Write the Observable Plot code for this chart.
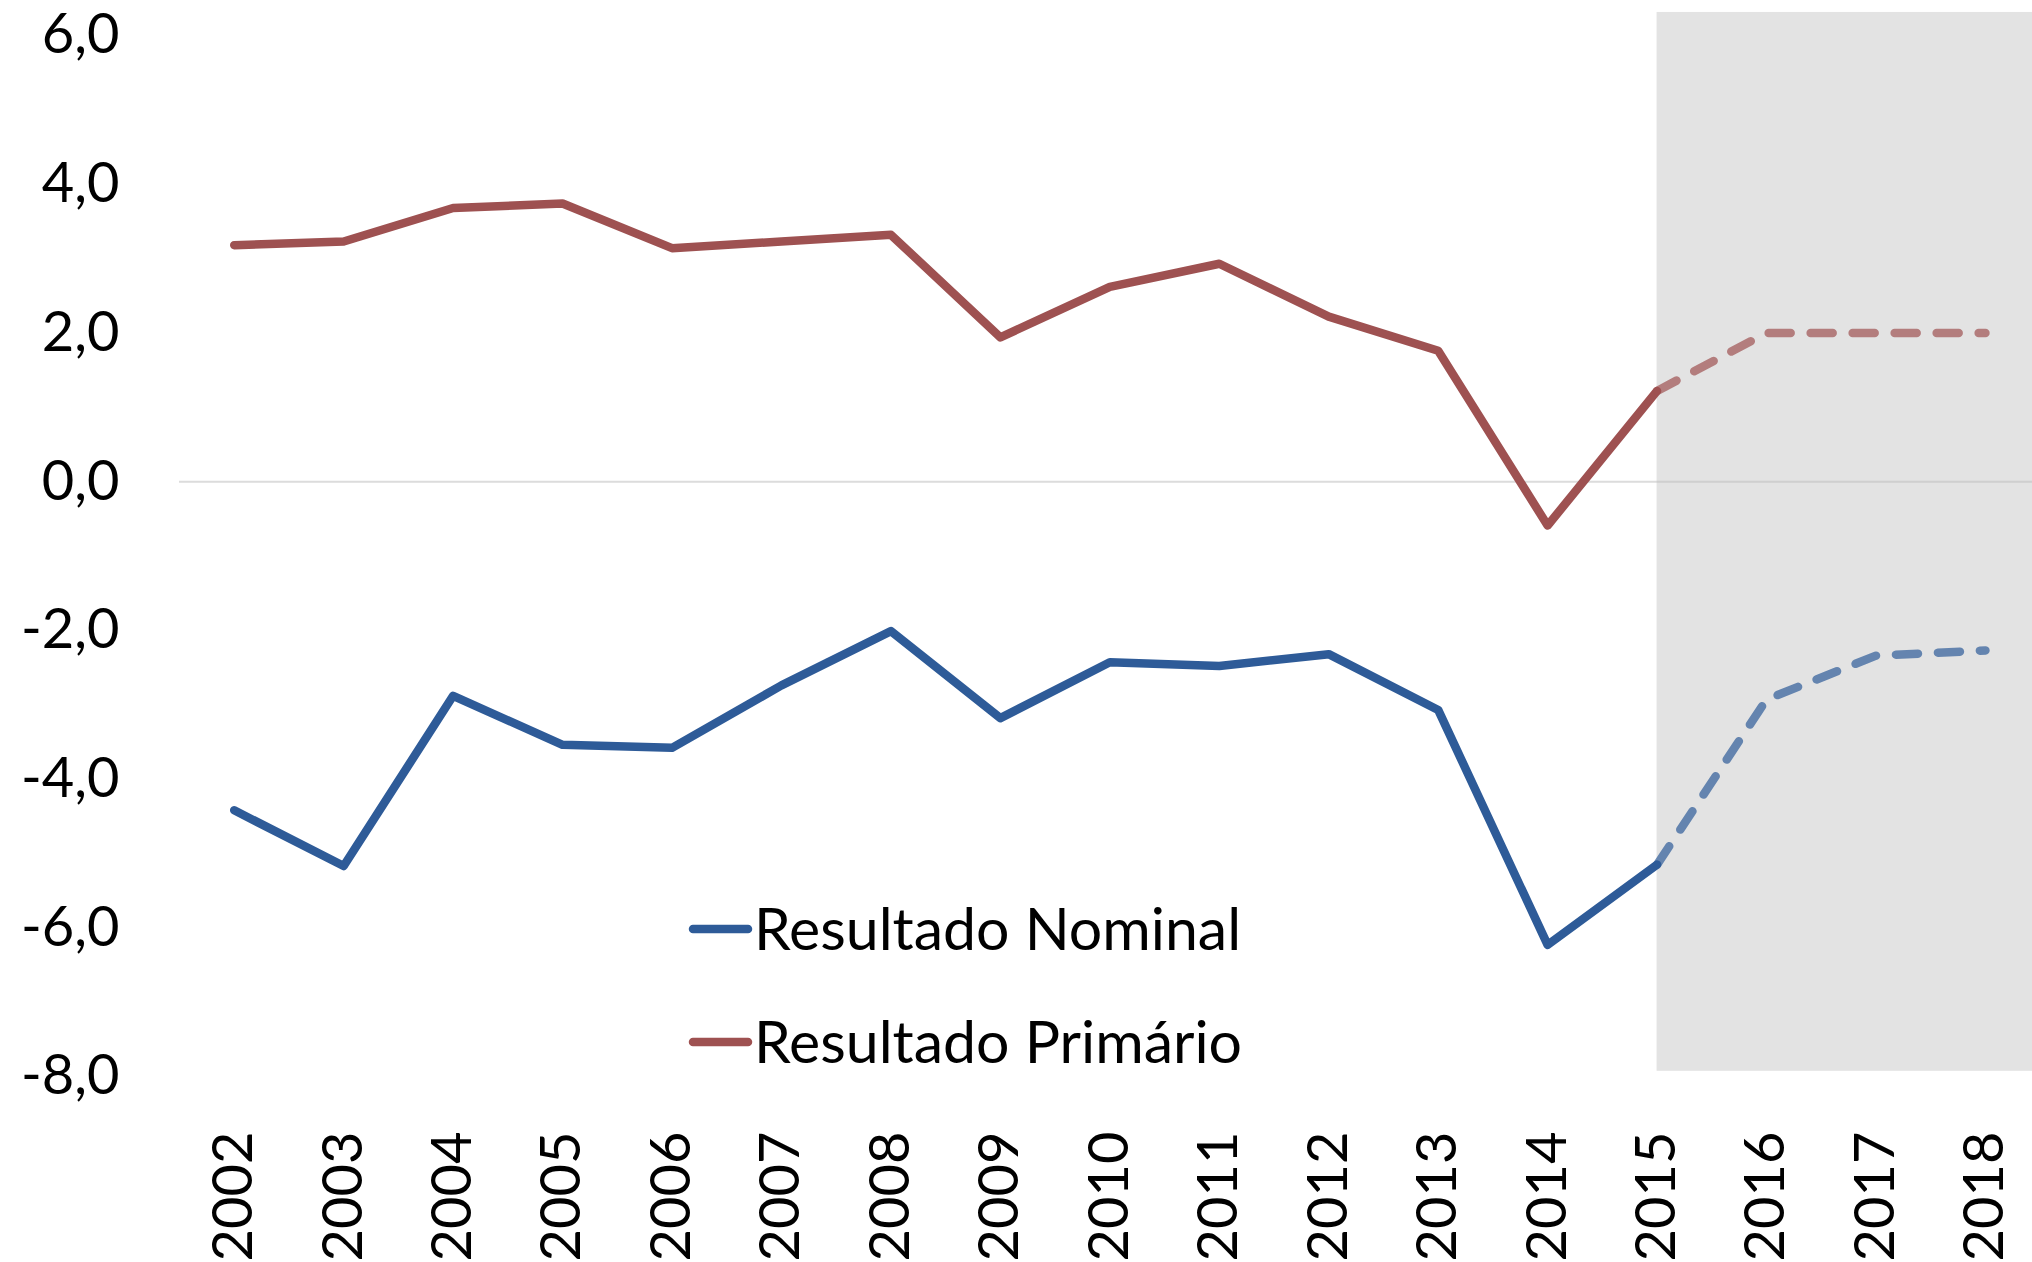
<!DOCTYPE html>
<html><head><meta charset="utf-8">
<script src="https://cdn.jsdelivr.net/npm/d3@7"></script>
<script src="https://cdn.jsdelivr.net/npm/@observablehq/plot@0.6"></script>
<style>body{margin:0;background:#fff;} #chart{width:2032px;height:1262px;}</style>
</head><body><div id="chart"></div>
<script>
const years = [2002,2003,2004,2005,2006,2007,2008,2009,2010,2011,2012,2013,2014,2015,2016,2017,2018];
const nominal = [-4.42,-5.17,-2.88,-3.54,-3.58,-2.74,-2.01,-3.18,-2.43,-2.48,-2.32,-3.07,-6.23,-5.15,-2.93,-2.34,-2.27];
const primario = [3.18,3.23,3.68,3.74,3.14,3.23,3.32,1.94,2.62,2.93,2.22,1.76,-0.59,1.22,2.0,2.0,2.0];
const yTicks = [-8,-6,-4,-2,0,2,4,6];
const forecastStart = 2015;
const seriesNames = ["Resultado Nominal","Resultado Primário"];
const seriesColors = ["#2E5B98","#9E5151"];

const rows = years.flatMap((year,i)=>[
  {year, value: nominal[i], series: seriesNames[0]},
  {year, value: primario[i], series: seriesNames[1]}
]);
const solid = rows.filter(d=>d.year<=forecastStart);
const dashed = rows.filter(d=>d.year>=forecastStart);
const fmt = d => d.toFixed(1).replace(".", ",");
const xEnd = 2018.43;

const chart = Plot.plot({
  width:2032, height:1262, marginLeft:179, marginRight:0, marginTop:35, marginBottom:186,
  style:{fontFamily:"Lato, sans-serif", fontSize:"56px", color:"#000", background:"#fff"},
  x:{type:"linear", domain:[2001.5, xEnd]},
  y:{domain:[-8,6]},
  color:{domain:seriesNames, range:seriesColors},
  marks:[
    Plot.rect([{x1:forecastStart, x2:xEnd, y1:-7.93, y2:6.31}], {x1:"x1",x2:"x2",y1:"y1",y2:"y2", fill:"#E3E3E3"}),
    Plot.ruleY([0], {stroke:"#BFBFBF", strokeOpacity:0.55, strokeWidth:2}),
    Plot.line(solid, {x:"year", y:"value", z:"series", stroke:"series", strokeWidth:8.5}),
    Plot.line(dashed, {x:"year", y:"value", z:"series", stroke:"series", strokeWidth:8.5, strokeOpacity:0.7, strokeDasharray:"22,20"}),
    Plot.axisY(yTicks, {tickSize:0, tickPadding:60, tickFormat:fmt, label:null}),
    Plot.axisX(years, {tickSize:0, tickPadding:55, tickRotate:-90, tickFormat:d=>String(d), label:null})
  ]
});
document.getElementById("chart").appendChild(chart);

const svg = d3.select(chart);
const leg = svg.append("g").attr("font-family","Lato, sans-serif").attr("font-size",59).attr("text-anchor","start");
const legY = [929, 1042];
seriesNames.forEach((name,i)=>{
  leg.append("line").attr("x1",693).attr("x2",748).attr("y1",legY[i]).attr("y2",legY[i])
    .attr("stroke",seriesColors[i]).attr("stroke-width",8.5).attr("stroke-linecap","round");
  leg.append("text").attr("x",754).attr("y",legY[i]).attr("dy","0.36em").attr("fill","#000").attr("text-anchor","start").text(name);
});
</script>
</body></html>
